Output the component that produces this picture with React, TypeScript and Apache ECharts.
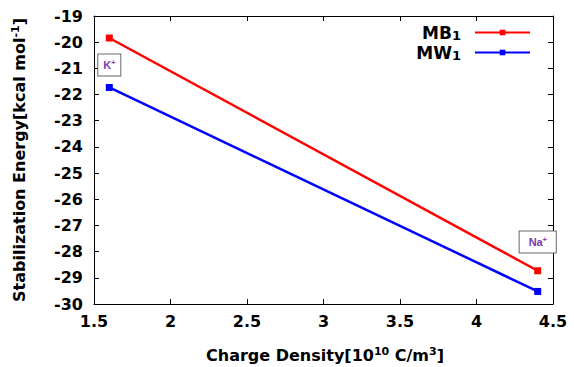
import React, { useEffect, useRef } from "react";
import * as echarts from "echarts";

const chargeDensity = [1.6, 4.4];
const mb1 = [-19.84, -28.73];
const mw1 = [-21.73, -29.52];
const ionLabels = ["K", "Na"];
const ionCoords = [[1.6, -20.87], [4.4, -27.63]];

const FONT = "DejaVu Sans, sans-serif";

export default function App() {
  const ref = useRef<HTMLDivElement>(null);
  useEffect(() => {
    const chart = echarts.init(ref.current!, null, { renderer: "svg" });
    const ionRich = {
      a: { fontSize: 11, fontWeight: "bold", color: "#7a3aa8", fontFamily: "Liberation Sans, Arial, sans-serif" },
      s: { fontSize: 7, fontWeight: "bold", color: "#7a3aa8", fontFamily: "Liberation Sans, Arial, sans-serif", verticalAlign: "top", lineHeight: 10 },
    };
    const axisLabelStyle = { fontSize: 16, fontWeight: "bold", color: "#000", fontFamily: FONT };
    const legendRich = {
      a: { fontSize: 17, fontWeight: "bold", color: "#000", fontFamily: FONT, lineHeight: 19 },
      s: { fontSize: 13, fontWeight: "bold", color: "#000", fontFamily: FONT, verticalAlign: "bottom", lineHeight: 12, padding: [7, 0, 0, 0] },
    };
    const tickStyle = { show: true, inside: true, length: 5, lineStyle: { color: "#000" } };
    const lineStyleAxis = { show: true, lineStyle: { color: "#000", width: 1 } };
    chart.setOption({
      animation: false,
      grid: { left: 94, right: 21, top: 16, bottom: 63, containLabel: false },
      legend: {
        orient: "vertical",
        right: 38,
        top: 17,
        align: "right",
        itemWidth: 55,
        itemHeight: 7,
        itemGap: 0,
        formatter: (n: string) => (n === "MB1" ? "{a|MB}{s|1}" : "{a|MW}{s|1}"),
        textStyle: { rich: legendRich, padding: [0, 9, 0, 0] },
      },
      xAxis: [
        {
          type: "value", min: 1.5, max: 4.5, interval: 0.5, position: "bottom",
          axisLine: lineStyleAxis, axisTick: tickStyle,
          axisLabel: { ...axisLabelStyle, margin: 9, formatter: (v: number) => String(v) },
          splitLine: { show: false },
        },
        {
          type: "value", min: 1.5, max: 4.5, interval: 0.5, position: "top",
          axisLine: lineStyleAxis, axisTick: tickStyle, axisLabel: { show: false }, splitLine: { show: false },
        },
      ],
      yAxis: [
        {
          type: "value", min: -30, max: -19, interval: 1, position: "left",
          axisLine: lineStyleAxis, axisTick: tickStyle,
          axisLabel: { ...axisLabelStyle, margin: 11 },
          splitLine: { show: false },
        },
        {
          type: "value", min: -30, max: -19, interval: 1, position: "right",
          axisLine: lineStyleAxis, axisTick: tickStyle, axisLabel: { show: false }, splitLine: { show: false },
        },
      ],
      series: [
        {
          name: "MB1",
          type: "line",
          data: chargeDensity.map((x, i) => [x, mb1[i]]),
          symbol: "rect",
          symbolSize: 7,
          lineStyle: { color: "#ff0000", width: 2.5 },
          itemStyle: { color: "#ff0000" },
          markPoint: {
            symbol: "rect",
            symbolSize: 1,
            itemStyle: { color: "transparent" },
            label: {
              show: true,
              position: "inside",
              backgroundColor: "#fff",
              borderColor: "#666",
              borderWidth: 1,
              rich: ionRich,
            },
            data: ionLabels.map((n, i) => ({
              coord: ionCoords[i],
              value: n,
              label: { formatter: `{a|${n}}{s|+}`, padding: i === 0 ? [5, 5, 5, 5] : [5, 9, 5, 9] },
            })),
          },
        },
        {
          name: "MW1",
          type: "line",
          data: chargeDensity.map((x, i) => [x, mw1[i]]),
          symbol: "rect",
          symbolSize: 7,
          lineStyle: { color: "#0000ff", width: 2.5 },
          itemStyle: { color: "#0000ff" },
        },
      ],
      graphic: [
        {
          type: "text",
          x: 325,
          y: 355,
          style: {
            text: "{a|Charge Density[10}{s|10}{a| C/m}{s|3}{a|]}",
            align: "center",
            verticalAlign: "middle",
            rich: {
              a: { fontSize: 16, fontWeight: "bold", fontFamily: FONT, fill: "#000", lineHeight: 18 },
              s: { fontSize: 11, fontWeight: "bold", fontFamily: FONT, fill: "#000", verticalAlign: "top", lineHeight: 18, padding: [0, 0, 8, 0] },
            },
          },
        },
        {
          type: "text",
          x: 19,
          y: 160,
          rotation: Math.PI / 2,
          style: {
            text: "{a|Stabilization Energy[kcal mol}{s|-1}{a|]}",
            align: "center",
            verticalAlign: "middle",
            rich: {
              a: { fontSize: 16, fontWeight: "bold", fontFamily: FONT, fill: "#000", lineHeight: 18 },
              s: { fontSize: 11, fontWeight: "bold", fontFamily: FONT, fill: "#000", verticalAlign: "top", lineHeight: 18, padding: [0, 0, 8, 0] },
            },
          },
        },
      ],
    });
    return () => chart.dispose();
  }, []);
  return <div ref={ref} style={{ width: 574, height: 367, position: "absolute", left: 0, top: 0 }} />;
}
